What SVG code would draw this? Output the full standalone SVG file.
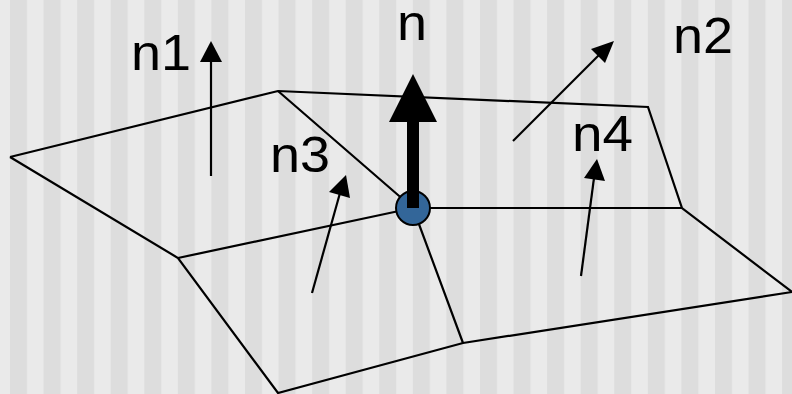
<svg xmlns="http://www.w3.org/2000/svg" width="792" height="394" viewBox="0 0 792 394">
<style>
.edge{fill:none;stroke:#000;stroke-width:2.2}
.arrow{fill:none;stroke:#000;stroke-width:2.2}
.head{fill:#000;stroke:none}
.label{font-family:"Liberation Sans",Arial,sans-serif;font-size:50px;fill:#000}
</style>
<defs>
<pattern id="stripes" patternUnits="userSpaceOnUse" x="10" y="0" width="33.57" height="394">
<rect width="33.57" height="394" fill="#eaeaea"/>
<rect width="17" height="394" fill="#dddddd"/>
</pattern>
</defs>
<rect id="background" width="792" height="394" fill="url(#stripes)"/>
<g id="connectors">
<path class="edge" d="M10 157L278 91L648 107L682 208L792 292L463 343L278 393L178 258L10 157"/>
<path class="edge" d="M278 91L413 208M178 258L413 208L682 208M413 208L463 343"/>
<path class="arrow" d="M211 176V58"/><polygon class="head" points="211,41 222,62 200,62"/>
<path class="arrow" d="M513 141L600 54"/><polygon class="head" points="614,41 605,63 591,49"/>
<path class="arrow" d="M312 293L340 193"/><polygon class="head" points="346,175 350,198 329,192"/>
<path class="arrow" d="M581 276L594 178"/><polygon class="head" points="597,159 605,181 584,178"/>
</g>
<g id="center-node">
<circle cx="413" cy="208" r="17" fill="#336699" stroke="#000" stroke-width="2"/>
<path d="M413 208V118" stroke="#000" stroke-width="12" fill="none"/>
<polygon class="head" points="413,74 437,122 389,122"/>
</g>
<g id="labels">
<text class="label" x="131" y="70" textLength="60" lengthAdjust="spacingAndGlyphs">n1</text>
<text class="label" x="397" y="40" textLength="30" lengthAdjust="spacingAndGlyphs">n</text>
<text class="label" x="673" y="53" textLength="60" lengthAdjust="spacingAndGlyphs">n2</text>
<text class="label" x="270" y="172" textLength="60" lengthAdjust="spacingAndGlyphs">n3</text>
<text class="label" x="572" y="151" textLength="61" lengthAdjust="spacingAndGlyphs">n4</text>
</g>
</svg>
